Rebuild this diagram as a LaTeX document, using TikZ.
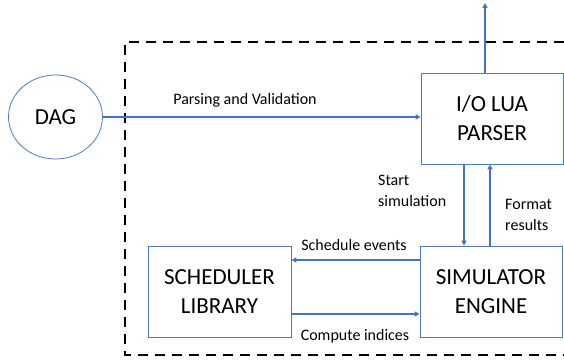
\documentclass[tikz,border=0pt]{standalone}
\usepackage{fontspec}
\setmainfont{Carlito}
\usetikzlibrary{arrows.meta,shapes.geometric}
\definecolor{lblue}{RGB}{68,114,196}
\definecolor{bcol}{RGB}{84,122,182}
\begin{document}
\begin{tikzpicture}[x=1pt,y=-1pt,
  box/.style={draw=bcol, line width=0.8pt, minimum width=142pt, minimum height=91pt, align=center, font=\fontsize{23}{29}\selectfont, inner sep=0pt},
  lbl/.style={font=\fontsize{16}{21}\selectfont, inner sep=0pt, align=left},
  conn/.style={draw=lblue, line width=2pt, -{Triangle[length=5pt,width=5pt]}}]
\useasboundingbox (0,0) rectangle (564,363);
\draw[line width=2.5pt, dash pattern=on 10pt off 7pt] (564,42) -- (125,42) -- (125,355) -- (564,355);
\node[box] (io) at (492,118.5) {I/O LUA\\PARSER};
\node[box] (sim) at (491,291.5) {SIMULATOR\\ENGINE};
\node[box, minimum width=143pt] (sch) at (219.5,292) {SCHEDULER\\LIBRARY};
\node[draw=bcol, line width=0.8pt, ellipse, minimum width=94pt, minimum height=84pt, inner sep=0pt, font=\fontsize{23}{29}\selectfont] (dag) at (55.5,117) {DAG};
\coordinate (top) at (485,3);
\draw[conn] (dag.east) -- (dag.east -| io.west);
\node[lbl] (plbl) at (245,100) {Parsing and Validation};
\draw[conn] (io.north -| top) -- (top);
\draw[conn] ([xshift=-28pt]io.south) -- ([xshift=-28pt]io.south |- sim.north);
\draw[conn] ([xshift=-1pt]sim.north) -- ([xshift=-1pt]sim.north |- io.south);
\draw[conn] ([yshift=31.5pt]sim.west) -- ([yshift=31.5pt]sim.west -| sch.east);
\draw[conn] ([yshift=-22pt]sch.east) -- ([yshift=-22pt]sch.east -| sim.west);
\node[lbl] (slbl) at (354,245) {Schedule events};
\node[lbl] (clbl) at (355,336) {Compute indices};
\node[lbl, anchor=west] (stlbl) at (378,190.5) {Start\\simulation};
\node[lbl, anchor=west] (flbl) at (505,215) {Format\\results};
\end{tikzpicture}
\end{document}
